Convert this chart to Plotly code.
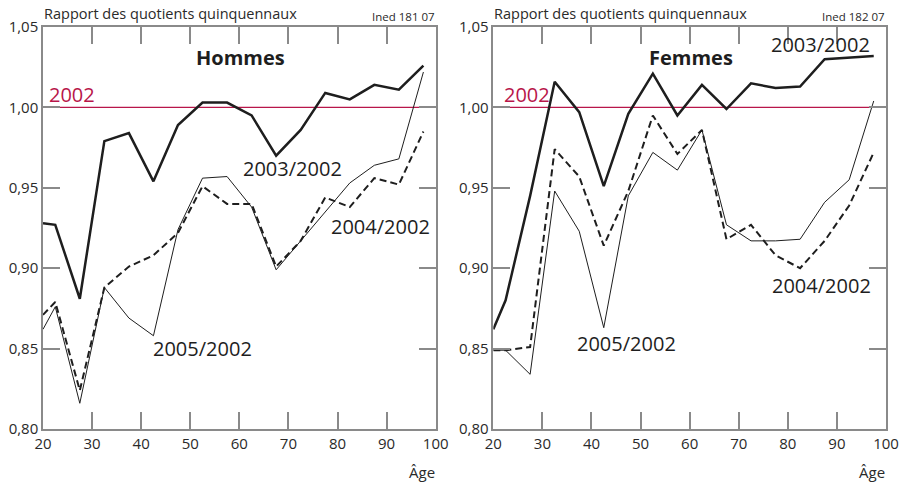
import plotly.graph_objects as go

ages = [20, 22.5, 27.5, 32.5, 37.5, 42.5, 47.5, 52.5, 57.5, 62.5, 67.5, 72.5, 77.5, 82.5, 87.5, 92.5, 97.5]

# Hommes
h_2003 = [0.928, 0.927, 0.881, 0.979, 0.984, 0.954, 0.989, 1.003, 1.003, 0.995, 0.970, 0.986, 1.009, 1.005, 1.014, 1.011, 1.026]
h_2004 = [0.871, 0.879, 0.824, 0.888, 0.901, 0.908, 0.922, 0.951, 0.940, 0.940, 0.901, 0.917, 0.944, 0.938, 0.956, 0.952, 0.985]
h_2005 = [0.862, 0.876, 0.816, 0.888, 0.869, 0.858, 0.924, 0.956, 0.957, 0.938, 0.899, 0.917, 0.935, 0.953, 0.964, 0.968, 1.022]

# Femmes
f_2003 = [0.862, 0.880, 0.945, 1.016, 0.997, 0.951, 0.996, 1.021, 0.995, 1.014, 0.999, 1.015, 1.012, 1.013, 1.030, 1.031, 1.032]
f_2004 = [0.849, 0.849, 0.851, 0.974, 0.957, 0.914, 0.948, 0.995, 0.971, 0.986, 0.918, 0.927, 0.908, 0.900, 0.917, 0.939, 0.972]
f_2005 = [0.849, 0.849, 0.834, 0.948, 0.923, 0.863, 0.945, 0.972, 0.961, 0.986, 0.927, 0.917, 0.917, 0.918, 0.941, 0.955, 1.004]

ref_x = [20, 100]
ref_y = [1.0, 1.0]

x_ticks = [20, 30, 40, 50, 60, 70, 80, 90, 100]
y_ticks = [0.80, 0.85, 0.90, 0.95, 1.00, 1.05]
y_tick_text = ["0,80", "0,85", "0,90", "0,95", "1,00", "1,05"]

FONT = "Open Sans"
INK = "#1e1e1e"
FRAME = "#8a8a8a"
RED = "#b8164a"

W, H = 901, 483
ML, MR, MT, MB = 43.3, W - 885.7, 26.7, H - 429.3
PW = W - ML - MR
PH = H - MT - MB

def px_x(px):
    return (px - ML) / PW

def px_y(py):
    return (H - MB - py) / PH

fig = go.Figure()

def add_panel(xa, ya, s2003, s2004, s2005):
    fig.add_trace(go.Scatter(x=ref_x, y=ref_y, mode="lines", line=dict(color=RED, width=1.3),
                             xaxis=xa, yaxis=ya, showlegend=False, hoverinfo="skip"))
    fig.add_trace(go.Scatter(x=ages, y=s2005, mode="lines", line=dict(color=INK, width=1),
                             xaxis=xa, yaxis=ya, showlegend=False))
    fig.add_trace(go.Scatter(x=ages, y=s2004, mode="lines", line=dict(color=INK, width=2, dash="7px,4px"),
                             xaxis=xa, yaxis=ya, showlegend=False))
    fig.add_trace(go.Scatter(x=ages, y=s2003, mode="lines", line=dict(color=INK, width=2.5),
                             xaxis=xa, yaxis=ya, showlegend=False))

add_panel("x", "y", h_2003, h_2004, h_2005)
add_panel("x2", "y2", f_2003, f_2004, f_2005)

xdom1 = [0, px_x(435.7)]
xdom2 = [px_x(493.3), 1]

axis_common = dict(showgrid=False, zeroline=False, showline=True, mirror="allticks",
                   linecolor=FRAME, linewidth=1.5, ticks="inside", ticklen=17,
                   tickcolor=FRAME, tickwidth=1.5, automargin=False,
                   tickfont=dict(family=FONT, size=15, color="#2a2a2a"))

xaxis_opts = dict(axis_common, range=[20, 100], tickvals=x_ticks)
yaxis_opts = dict(axis_common, range=[0.80, 1.05], tickvals=y_ticks, ticktext=y_tick_text)

fig.update_layout(
    width=W, height=H,
    margin=dict(l=ML, r=MR, t=MT, b=MB, pad=0),
    paper_bgcolor="white", plot_bgcolor="white",
    font=dict(family=FONT, color=INK),
    xaxis=dict(xaxis_opts, domain=xdom1, anchor="y"),
    yaxis=dict(yaxis_opts, domain=[0, 1], anchor="x"),
    xaxis2=dict(xaxis_opts, domain=xdom2, anchor="y2"),
    yaxis2=dict(yaxis_opts, domain=[0, 1], anchor="x2"),
)

ann = []
def txt(text, x, y, xref, yref, xanchor="left", size=20, color=INK, bold=False):
    ann.append(dict(text=("<b>%s</b>" % text) if bold else text, x=x, y=y, xref=xref, yref=yref,
                    xanchor=xanchor, yanchor="middle", showarrow=False,
                    font=dict(family=FONT, size=size, color=color)))

for xr, yr, left, right, ined, title in [("x", "y", 43.3, 435.7, "Ined 181 07", "Hommes"),
                                          ("x2", "y2", 493.3, 885.7, "Ined 182 07", "Femmes")]:
    txt("Rapport des quotients quinquennaux", px_x(left - 1), px_y(13.5), "paper", "paper", size=14.5, color="#2a2a2a")
    txt(ined, px_x(right + 1), px_y(16), "paper", "paper", xanchor="right", size=11.5, color="#2a2a2a")
    txt("Âge", px_x(right + 1), px_y(472), "paper", "paper", xanchor="right", size=15, color="#2a2a2a")
    txt(title, 60.2, 1.031, xr, yr, xanchor="center", bold=True)

# Hommes labels
txt("2002", 20.9, 1.008, "x", "y", color=RED)
txt("2003/2002", 60.4, 0.962, "x", "y")
txt("2004/2002", 78.3, 0.926, "x", "y")
txt("2005/2002", 42.1, 0.850, "x", "y")

# Femmes labels
txt("2002", 21.8, 1.008, "x2", "y2", color=RED)
txt("2003/2002", 76.1, 1.039, "x2", "y2")
txt("2004/2002", 76.3, 0.889, "x2", "y2")
txt("2005/2002", 36.7, 0.853, "x2", "y2")

fig.update_layout(annotations=ann)

fig.write_html("out.html", config={"displayModeBar": False},
               post_script="document.body.style.margin='0';document.body.style.padding='0';")
